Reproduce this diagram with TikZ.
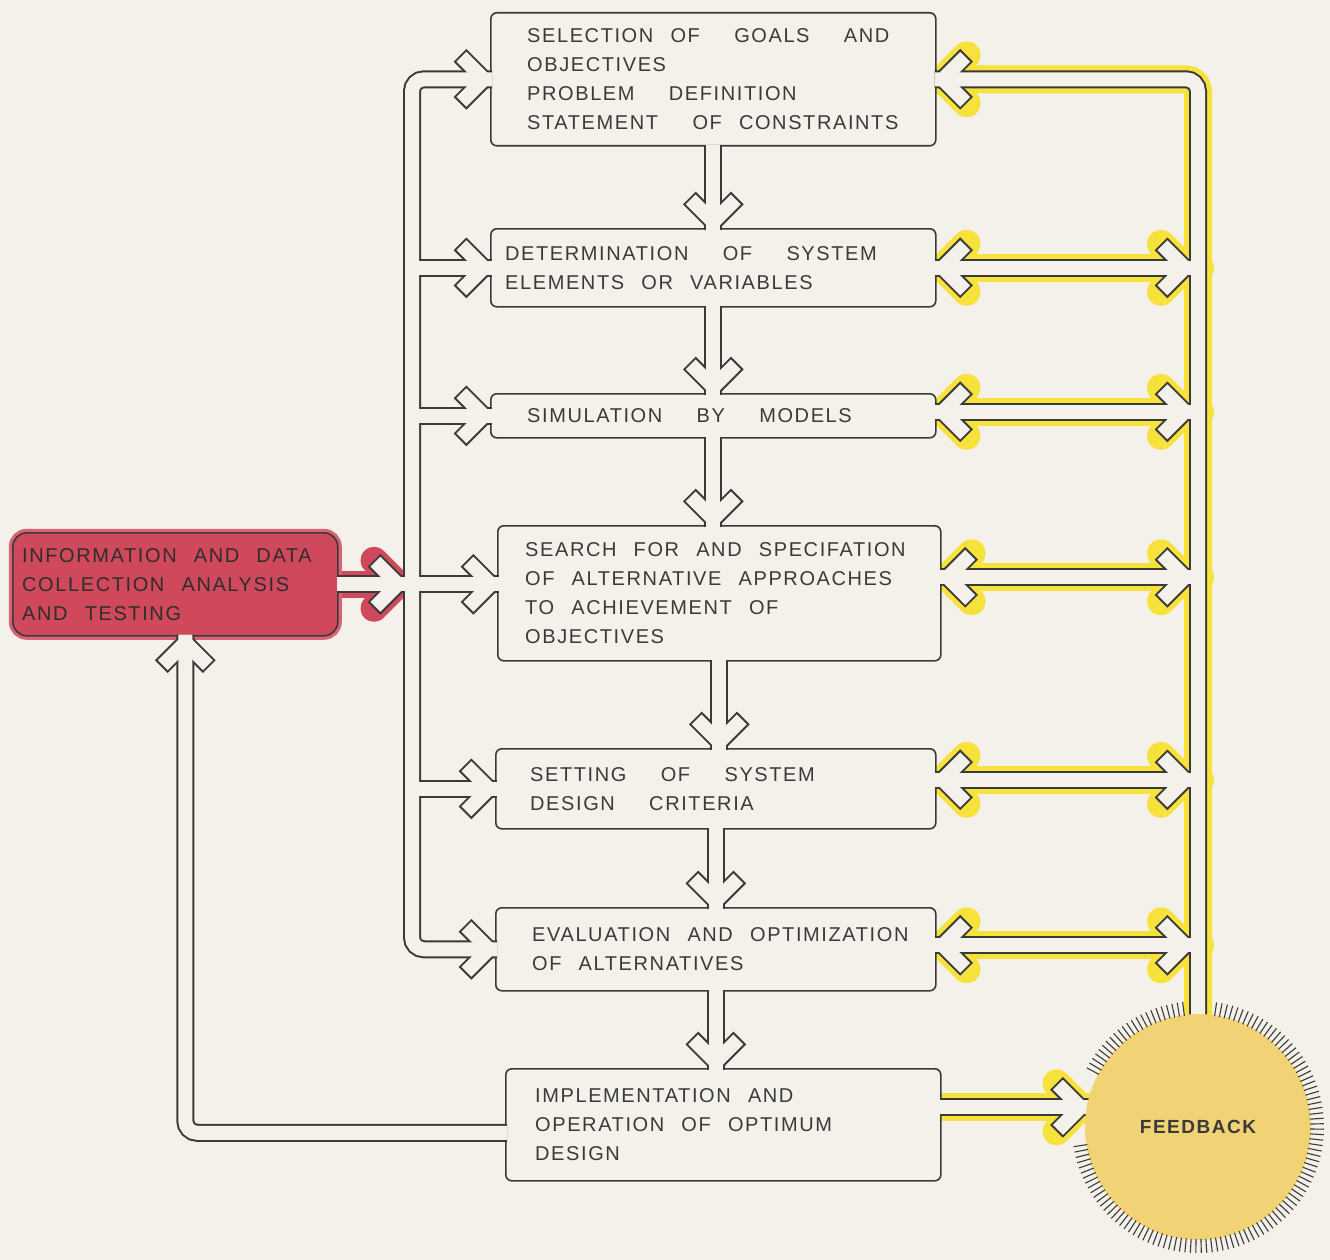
\documentclass[tikz,border=0pt]{standalone}
\usepackage{fontspec}
\newfontfamily\hand[LetterSpace=8,WordSpace=2.4]{Liberation Sans}
\definecolor{paper}{RGB}{243,241,234}
\definecolor{ink}{RGB}{58,58,58}
\definecolor{glowy}{RGB}{247,226,60}
\definecolor{infored}{RGB}{208,72,92}
\definecolor{fbgold}{RGB}{241,211,118}
\pgfdeclarelayer{bg}
\pgfdeclarelayer{glow}
\pgfdeclarelayer{pipes}
\pgfdeclarelayer{top}
\pgfsetlayers{bg,glow,main,pipes,top}
\tikzset{
  stage/.style={draw=ink, line width=1.6pt, rounded corners=6pt, fill=paper,
    anchor=north west, inner sep=0pt},
  infobox/.style={draw=ink, line width=1.6pt, rounded corners=14pt, fill=infored,
    anchor=north west, inner sep=0pt, preaction={draw=infored!85, line width=8pt}},
  words/.style={anchor=west, align=left, inner sep=0pt, text=ink,
    font=\hand\fontsize{20}{29}\selectfont},
  feedback/.style={circle, fill=fbgold, minimum size=226pt, inner sep=0pt, text=ink,
    font=\hand\bfseries\fontsize{19}{22}\selectfont},
  hatch/.style={draw=ink, line width=1.1pt},
  into/.style={shorten <=-2pt, shorten >=-2pt},
  barb/.style={},
  pipeout/.style={draw=ink, line width=18pt, rounded corners=12pt},
  pipein/.style={draw=paper, line width=14pt, rounded corners=12pt, barb/.style={shorten >=2pt}},
  glowyel/.style={draw=glowy, line width=28pt, rounded corners=12pt, line cap=round, line join=round},
  glowred/.style={draw=infored, line width=27pt, line cap=round, line join=round},
}
% open arrow heads: two barbs behind the tip
\newcommand\tipR[2]{\draw[#1, barb] ([xshift=-6pt]#2) -- ++(-24,-24); \draw[#1, barb] ([xshift=-6pt]#2) -- ++(-24,24);}
\newcommand\tipL[2]{\draw[#1, barb] ([xshift=6pt]#2) -- ++(24,-24); \draw[#1, barb] ([xshift=6pt]#2) -- ++(24,24);}
\newcommand\tipD[2]{\draw[#1, barb] ([yshift=6pt]#2) -- ++(-24,-24); \draw[#1, barb] ([yshift=6pt]#2) -- ++(24,-24);}
\newcommand\tipU[2]{\draw[#1, barb] ([yshift=-6pt]#2) -- ++(-24,24); \draw[#1, barb] ([yshift=-6pt]#2) -- ++(24,24);}
% left bus, downward flow and return to information box
\newcommand\greynet[1]{%
  \draw[#1, into] (sel.west) -| (trunk |- eval.west) -- (eval.west);
  \foreach \b in {det, sim, crit} {\draw[#1, into] (trunk |- \b.west) -- (\b.west);}
  \draw[#1, into] (trunk |- srch-w) -- (srch-w);
  \foreach \b in {sel, det, sim, crit, eval} {\tipR{#1}{\b.west}}
  \tipR{#1}{srch-w}
  \foreach \u/\l in {sel/det, det/sim, sim/srch, srch/crit, crit/eval, eval/impl}
    {\draw[#1, into] (\u.south) -- (\l-n); \tipD{#1}{\l-n}}
  \draw[#1, into] (impl-w) -| (info-s);
  \tipU{#1}{info-s}
}
\newcommand\rednet[1]{%
  \draw[#1, into] (info.east) -- (info.east -| trunk);
  \tipR{#1}{red-tip}
}
% feedback bus on the right
\newcommand\yellownet[1]{%
  \draw[#1, into] (sel.east) -| (fb.north);
  \tipL{#1}{sel.east}
  \foreach \b in {det, sim, srch, crit, eval}
    {\draw[#1, into] (\b-e) -- (\b-e -| fb.north); \tipL{#1}{\b-e} \tipR{#1}{\b-b}}
  \draw[#1, into] (impl.east |- fb.170) -- (fb.170);
  \tipR{#1}{fb.170}
}
\begin{document}
\begin{tikzpicture}[x=1pt, y=-1pt]
\useasboundingbox (0,0) rectangle (1330,1260);
\begin{pgfonlayer}{bg}
  \fill[paper] (0,0) rectangle (1330,1260);
\end{pgfonlayer}

% stages
\node[stage, minimum width=445pt, minimum height=133pt] (sel) at (490,12) {};
\node[stage, minimum width=445pt, minimum height=78pt] (det) at (490,228) {};
\node[stage, minimum width=445pt, minimum height=44pt] (sim) at (490,393) {};
\node[stage, minimum width=443pt, minimum height=135pt] (srch) at (497,525) {};
\node[stage, minimum width=440pt, minimum height=80pt] (crit) at (495,748) {};
\node[stage, minimum width=440pt, minimum height=83pt] (eval) at (495,907) {};
\node[stage, minimum width=435pt, minimum height=112pt] (impl) at (505,1068) {};
\node[infobox, minimum width=325pt, minimum height=103pt] (info) at (12,532) {};

\node[words] (sel-t) at ([xshift=37pt]sel.west) {SELECTION OF~ GOALS~ AND\\OBJECTIVES\\PROBLEM~ DEFINITION\\STATEMENT~ OF CONSTRAINTS};
\node[words] (det-t) at ([xshift=15pt]det.west) {DETERMINATION~ OF~ SYSTEM\\ELEMENTS OR VARIABLES};
\node[words] (sim-t) at ([xshift=37pt]sim.west) {SIMULATION~ BY~ MODELS};
\node[words] (srch-t) at ([xshift=28pt]srch.west) {SEARCH FOR AND SPECIFATION\\OF ALTERNATIVE APPROACHES\\TO ACHIEVEMENT OF\\OBJECTIVES};
\node[words] (crit-t) at ([xshift=35pt]crit.west) {SETTING~ OF~ SYSTEM\\DESIGN~ CRITERIA};
\node[words] (eval-t) at ([xshift=37pt]eval.west) {EVALUATION AND OPTIMIZATION\\OF ALTERNATIVES};
\node[words] (impl-t) at ([xshift=30pt]impl.west) {IMPLEMENTATION AND\\OPERATION OF OPTIMUM\\DESIGN};
\node[words, text=ink!80!black] (info-t) at ([xshift=10pt]info.west) {INFORMATION AND DATA\\COLLECTION ANALYSIS\\AND TESTING};

\begin{pgfonlayer}{top}
  \node[feedback] (fb) at (1198,1127) {FEEDBACK};
  \foreach \a in {97,99.5,...,153} {\draw[hatch] (fb.center) ++(\a:112pt) -- ++(\a:14pt);}
  \foreach \a in {189,191.5,...,443} {\draw[hatch] (fb.center) ++(\a:112pt) -- ++(\a:14pt);}
\end{pgfonlayer}

% junction points
\coordinate (trunk) at (412,0);
\coordinate (trunkwall) at (404,0);
\coordinate (buswall) at ([xshift=-7pt]fb.north);
\coordinate (srch-w) at (info.east -| srch.west);
\coordinate (red-tip) at (info.east -| trunkwall);
\coordinate (impl-w) at ([yshift=-8pt]impl.west);
\coordinate (info-s) at ([xshift=10pt]info.south);
\foreach \u/\l in {sel/det, det/sim, sim/srch, srch/crit, crit/eval, eval/impl}
  {\coordinate (\l-n) at (\u.south |- \l.north);}
\foreach \b/\s in {det/0pt, sim/4pt, srch/16pt, crit/9pt, eval/4pt}
  {\coordinate (\b-e) at ([yshift=\s]\b.east);
   \coordinate (\b-b) at (\b-e -| buswall);}

\begin{pgfonlayer}{glow}
  \yellownet{glowyel}
  \draw[glowred] (info.east) -- ([xshift=-10pt]red-tip);
  \tipR{glowred}{red-tip}
\end{pgfonlayer}

\begin{pgfonlayer}{pipes}
  \greynet{pipeout}
  \rednet{pipeout}
  \yellownet{pipeout}
  \greynet{pipein}
  \rednet{pipein}
  \yellownet{pipein}
\end{pgfonlayer}
\end{tikzpicture}
\end{document}
